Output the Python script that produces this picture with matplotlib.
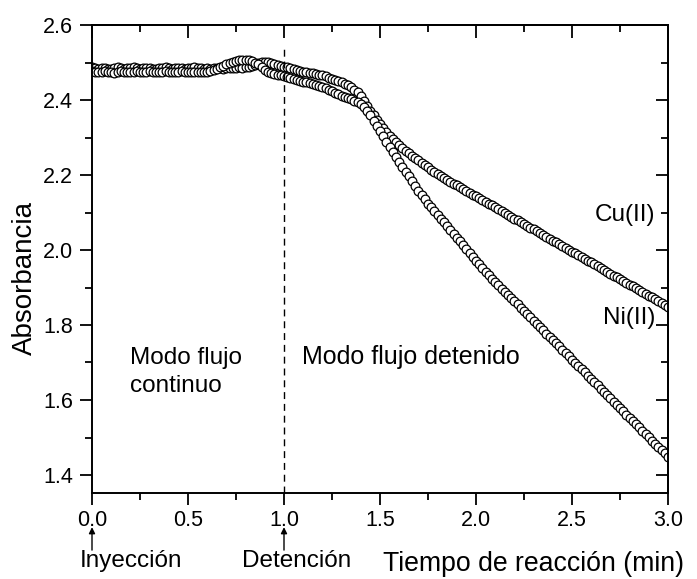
import numpy as np
import matplotlib
matplotlib.use("Agg")
import matplotlib.pyplot as plt
from matplotlib.ticker import MultipleLocator

plt.rcParams['font.family'] = ['Liberation Sans', 'DejaVu Sans']

# tiempo: una lectura por segundo, 0-180 s, en minutos
t_min = np.arange(181) / 60.0

# absorbancia Cu(II)
cu = [2.487, 2.485, 2.484, 2.486, 2.485, 2.483, 2.484, 2.486, 2.487, 2.485, 2.484, 2.485,
      2.486, 2.487, 2.485, 2.484, 2.485, 2.486, 2.485, 2.484, 2.483, 2.485, 2.486, 2.487,
      2.485, 2.484, 2.485, 2.486, 2.485, 2.484, 2.485, 2.486, 2.487, 2.486, 2.485, 2.484,
      2.485, 2.484, 2.485, 2.486, 2.485, 2.484, 2.485, 2.486, 2.485, 2.486, 2.487, 2.486,
      2.487, 2.488, 2.490, 2.494, 2.499, 2.502, 2.502, 2.501, 2.499, 2.496, 2.493, 2.491,
      2.489, 2.487, 2.485, 2.482, 2.480, 2.478, 2.476, 2.475, 2.473, 2.472, 2.470, 2.468,
      2.466, 2.463, 2.460, 2.457, 2.454, 2.451, 2.448, 2.444, 2.439, 2.434, 2.428, 2.421,
      2.410, 2.398, 2.385, 2.372, 2.360, 2.348, 2.337, 2.326, 2.315, 2.305, 2.296, 2.288,
      2.280, 2.272, 2.265, 2.258, 2.251, 2.245, 2.239, 2.233, 2.227, 2.220, 2.213, 2.207,
      2.202, 2.197, 2.192, 2.187, 2.182, 2.177, 2.172, 2.168, 2.163, 2.158, 2.153, 2.148,
      2.143, 2.138, 2.133, 2.128, 2.123, 2.119, 2.114, 2.109, 2.104, 2.099, 2.094, 2.089,
      2.084, 2.079, 2.074, 2.070, 2.065, 2.060, 2.055, 2.050, 2.045, 2.040, 2.035, 2.030,
      2.025, 2.021, 2.016, 2.011, 2.006, 2.001, 1.996, 1.991, 1.986, 1.981, 1.976, 1.972,
      1.967, 1.962, 1.957, 1.952, 1.947, 1.942, 1.937, 1.932, 1.927, 1.923, 1.918, 1.913,
      1.908, 1.903, 1.898, 1.893, 1.888, 1.883, 1.878, 1.874, 1.869, 1.864, 1.859, 1.854,
      1.849]

# absorbancia Ni(II)
ni = [2.478, 2.476, 2.474, 2.475, 2.477, 2.476, 2.474, 2.473, 2.475, 2.477, 2.476, 2.475,
      2.474, 2.476, 2.477, 2.475, 2.474, 2.476, 2.477, 2.476, 2.474, 2.475, 2.476, 2.477,
      2.476, 2.475, 2.474, 2.476, 2.477, 2.475, 2.474, 2.475, 2.476, 2.475, 2.474, 2.476,
      2.476, 2.477, 2.479, 2.483, 2.487, 2.491, 2.495, 2.499, 2.502, 2.504, 2.506, 2.507,
      2.507, 2.506, 2.504, 2.500, 2.495, 2.488, 2.480, 2.475, 2.472, 2.470, 2.468, 2.466,
      2.463, 2.461, 2.458, 2.456, 2.453, 2.451, 2.449, 2.447, 2.445, 2.442, 2.440, 2.437,
      2.434, 2.431, 2.428, 2.424, 2.420, 2.416, 2.412, 2.409, 2.405, 2.402, 2.398, 2.394,
      2.389, 2.382, 2.372, 2.359, 2.345, 2.331, 2.317, 2.303, 2.289, 2.276, 2.262, 2.249,
      2.234, 2.221, 2.208, 2.196, 2.183, 2.171, 2.158, 2.146, 2.135, 2.124, 2.114, 2.104,
      2.094, 2.084, 2.074, 2.064, 2.053, 2.043, 2.033, 2.023, 2.013, 2.002, 1.992, 1.982,
      1.972, 1.962, 1.952, 1.942, 1.933, 1.924, 1.915, 1.906, 1.897, 1.889, 1.880, 1.871,
      1.863, 1.855, 1.846, 1.838, 1.829, 1.821, 1.812, 1.803, 1.795, 1.786, 1.777, 1.769,
      1.760, 1.751, 1.743, 1.734, 1.726, 1.717, 1.708, 1.700, 1.691, 1.682, 1.674, 1.665,
      1.656, 1.648, 1.639, 1.630, 1.622, 1.613, 1.605, 1.596, 1.587, 1.579, 1.570, 1.561,
      1.553, 1.544, 1.535, 1.527, 1.518, 1.510, 1.501, 1.492, 1.484, 1.475, 1.466, 1.458,
      1.449]

t_iny = 0.0      # inyeccion
t_det = 1.0      # detencion del flujo
y_lim = (1.352, 2.6)
dash_top = 2.535

fig = plt.figure(figsize=(6.97, 5.79), dpi=100)
ax = fig.add_axes([92/697, 86/579, 576/697, 468/579])

for serie in (cu, ni):
    ax.plot(t_min, serie, linestyle='none', marker='o', markersize=6.3,
            markerfacecolor='white', markeredgecolor='black', markeredgewidth=0.9)

ax.set_xlim(0, 3)
ax.set_ylim(*y_lim)

# linea de detencion
ax.axvline(t_det, ymin=0, ymax=(dash_top - y_lim[0]) / (y_lim[1] - y_lim[0]),
           color='black', lw=1.0, ls=(0, (5, 3.5)))

ax.xaxis.set_major_locator(MultipleLocator(0.5))
ax.xaxis.set_minor_locator(MultipleLocator(0.25))
ax.yaxis.set_major_locator(MultipleLocator(0.2))
ax.yaxis.set_minor_locator(MultipleLocator(0.1))

for s in ax.spines.values():
    s.set_linewidth(1.4)

ax.tick_params(which='both', direction='out', labelsize=15.5, width=1.3)
ax.tick_params(which='major', length=8.5)
ax.tick_params(which='minor', length=5)
ax.tick_params(axis='x', pad=3.5)
ax.tick_params(axis='y', pad=5)

# ticks interiores arriba y derecha
ax2 = ax.secondary_xaxis('top')
ax2.xaxis.set_major_locator(MultipleLocator(0.5))
ax2.xaxis.set_minor_locator(MultipleLocator(0.25))
ax2.tick_params(which='both', direction='in', labeltop=False, width=1.3)
ax2.tick_params(which='major', length=9)
ax2.tick_params(which='minor', length=5)
ax3 = ax.secondary_yaxis('right')
ax3.yaxis.set_major_locator(MultipleLocator(0.2))
ax3.yaxis.set_minor_locator(MultipleLocator(0.1))
ax3.tick_params(which='both', direction='in', labelright=False, width=1.3)
ax3.tick_params(which='major', length=9)
ax3.tick_params(which='minor', length=5)
for a in (ax2, ax3):
    for s in a.spines.values():
        s.set_linewidth(1.4)

ax.set_ylabel("Absorbancia", fontsize=20)
ax.yaxis.set_label_coords(-0.094, 0.46)
ax.set_xlabel("Tiempo de reacción (min)", fontsize=19.2, ha='left', va='baseline')
ax.xaxis.set_label_coords(0.505, -0.166)

ax.text(0.198, 1.675, "Modo flujo\ncontinuo", fontsize=17.5, ha='left', va='center',
        linespacing=1.35)
ax.text(1.094, 1.715, "Modo flujo detenido", fontsize=18, ha='left', va='center')
ax.text(2.932, 2.093, "Cu(II)", fontsize=17.5, ha='right', va='center')
ax.text(2.932, 1.819, "Ni(II)", fontsize=17.5, ha='right', va='center')

# flechas de inyeccion y detencion
trans = ax.get_xaxis_transform()
for tx in (t_iny, t_det):
    ax.annotate("", xy=(tx, -0.073), xycoords=trans, xytext=(tx, -0.122), textcoords=trans,
                arrowprops=dict(arrowstyle='-|>', color='black', lw=1.0,
                                mutation_scale=9, shrinkA=0, shrinkB=0),
                annotation_clip=False)
ax.text(-0.066, -0.158, "Inyección", transform=trans, fontsize=17.5, ha='left', va='baseline')
ax.text(0.783, -0.158, "Detención", transform=trans, fontsize=17.5, ha='left', va='baseline')

fig.savefig("out.png", dpi=100)
